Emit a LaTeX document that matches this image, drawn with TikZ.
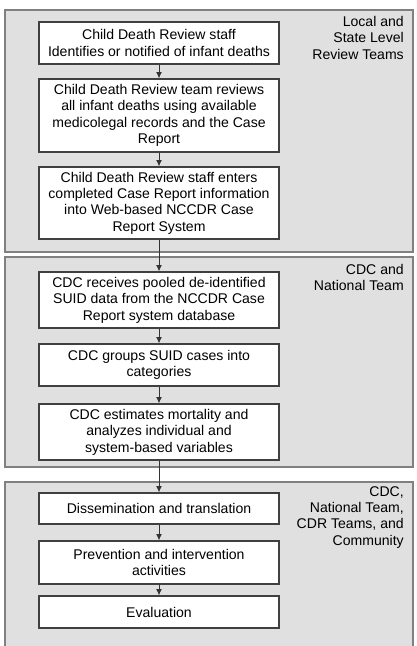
\documentclass[tikz,border=0pt]{standalone}
\usepackage{fontspec}
\setmainfont{Liberation Sans}
\usetikzlibrary{arrows.meta}

\begin{document}
\begin{tikzpicture}[
    x=0.03cm, y=-0.03cm,
    panel/.style={
        draw=black!50,
        fill=black!12,
        line width=1.2pt
    },
    stepbox/.style={
        rectangle,
        draw=black!75,
        fill=white,
        line width=0.9pt,
        minimum width=7.2cm,
        align=center,
        inner sep=0pt,
        font=\fontsize{12}{14}\selectfont
    },
    team/.style={
        anchor=north east,
        align=right,
        inner sep=0pt,
        font=\fontsize{12}{14}\selectfont
    },
    flow/.style={draw=black!80, line width=0.85pt, -{Latex[length=5.5pt,width=5pt]}}
]

\useasboundingbox (0,0) rectangle (416,646);
\clip (0,0) rectangle (416,646);

% Panels
\draw[panel] (5,10) rectangle (413,252);
\draw[panel] (5,257) rectangle (413,467);
\draw[panel] (5,482) rectangle (413,670);

% Teams
\node[team] (local) at (404,16) {Local and\\State Level\\Review Teams};
\node[team] (national) at (404,264) {CDC and\\National Team};
\node[team] (community) at (404,486) {CDC,\\National Team,\\CDR Teams, and\\Community};

% Local and state level
\node[stepbox, minimum height=42*0.03cm] (notify) at (159,43)
    {Child Death Review staff\\Identifies or notified of infant deaths};
\node[stepbox, minimum height=73*0.03cm] (review) at (159,115.5)
    {Child Death Review team reviews\\all infant deaths using available\\medicolegal records and the Case\\Report};
\node[stepbox, minimum height=72*0.03cm] (enter) at (159,203)
    {Child Death Review staff enters\\completed Case Report information\\into Web-based NCCDR Case\\Report System};

% CDC and national team
\node[stepbox, minimum height=56*0.03cm] (receive) at (159,300)
    {CDC receives pooled de-identified\\SUID data from the NCCDR Case\\Report system database};
\node[stepbox, minimum height=42*0.03cm] (group) at (159,365)
    {CDC groups SUID cases into\\categories};
\node[stepbox, minimum height=56*0.03cm] (estimate) at (159,432)
    {CDC estimates mortality and\\analyzes individual and\\system-based variables};

% Community
\node[stepbox, minimum height=31*0.03cm] (dissem) at (159,508.5)
    {Dissemination and translation};
\node[stepbox, minimum height=43*0.03cm] (prevent) at (159,562.5)
    {Prevention and intervention\\activities};
\node[stepbox, minimum height=32*0.03cm] (evaluate) at (159,612)
    {Evaluation};

% Flow
\draw[flow] (notify) -- (review);
\draw[flow] (review) -- (enter);
\draw[flow] (enter) -- (receive);
\draw[flow] (receive) -- (group);
\draw[flow] (group) -- (estimate);
\draw[flow] (estimate) -- (dissem);
\draw[flow] (dissem) -- (prevent);
\draw[flow] (prevent) -- (evaluate);

\end{tikzpicture}
\end{document}
